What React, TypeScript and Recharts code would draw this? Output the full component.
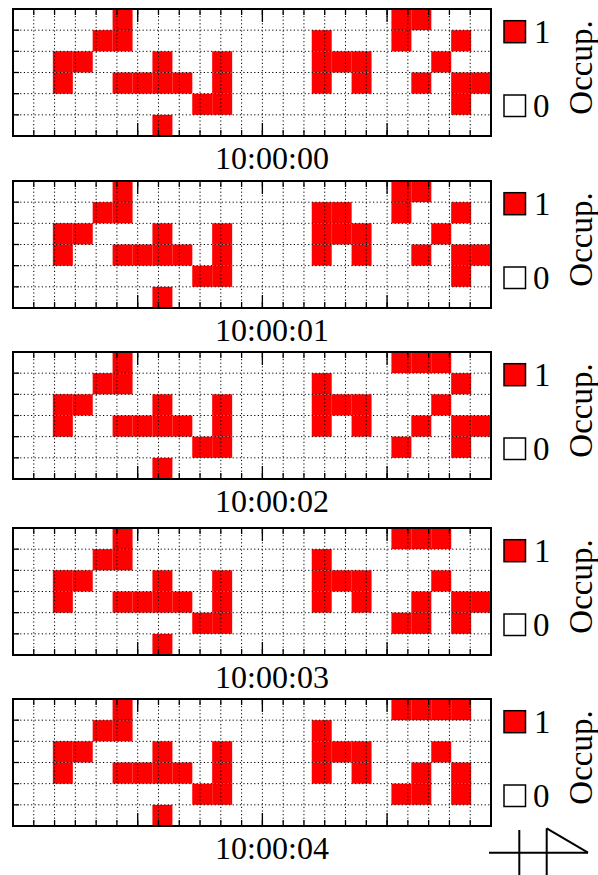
import React from "react";
import { BarChart, Bar, Cell, XAxis, YAxis, ReferenceLine } from "recharts";

// grid columns (left to right) and rows (top to bottom)
const columns = [0, 1, 2, 3, 4, 5, 6, 7, 8, 9, 10, 11, 12, 13, 14, 15, 16, 17, 18, 19, 20, 21, 22, 23];
const rowIds = [0, 1, 2, 3, 4, 5];

const times = ["10:00:00", "10:00:01", "10:00:02", "10:00:03", "10:00:04"];

// occupancy, one string per row (top row first), one char per column
const occ0 = [
    "000001000000000000011000",
    "000011000000000100010010",
    "001100010010000111000100",
    "001001111010000101001011",
    "000000000110000000000010",
    "000000010000000000000000",
];
const occ1 = [
    "000001000000000000011000",
    "000011000000000110010010",
    "001100010010000111000100",
    "001001111010000101001011",
    "000000000110000000000010",
    "000000010000000000000000",
];
const occ2 = [
    "000001000000000000011100",
    "000011000000000100000010",
    "001100010010000111000100",
    "001001111010000101001011",
    "000000000110000000010010",
    "000000010000000000000000",
];
const occ3 = [
    "000001000000000000011100",
    "000011000000000100000000",
    "001100010010000111000100",
    "001001111010000101001011",
    "000000000110000000011010",
    "000000010000000000000000",
];
const occ4 = [
    "000001000000000000011110",
    "000011000000000100000000",
    "001100010010000111000100",
    "001001111010000101001010",
    "000000000110000000011010",
    "000000010000000000000000",
];
const frames = [occ0, occ1, occ2, occ3, occ4];

const legendLabel = "Occup.";

const RED = "#ff0000";
const FONT = "'Liberation Serif', 'Times New Roman', serif";
const W = 598;
const PLOT_H = 127;
const chartTops = [0, 172, 343, 519, 690];

const XMAX = columns.length;
const YMAX = rowIds.length;
// inner boundaries only; the frame covers the ends
const xTicks = columns.slice(1);
const xMajor = xTicks.filter((t) => t % 6 === 0);
const yTicks = rowIds.slice(1);

const tickStyle = { stroke: "#000", strokeWidth: 1.3 };
const borderStyle = { stroke: "#000", strokeWidth: 2, strokeLinecap: "square" as const };
const THIN = 0.01; // axes need a non-zero size to be drawn
const noLabel = () => <g />;

interface PanelProps {
    grid: string[];
    time: string;
    height: number;
    last: boolean;
}

const Panel: React.FC<PanelProps> = ({ grid, time, height, last }) => {
    const data = columns.map((c) => {
        const o: any = { col: c };
        rowIds.forEach((r) => {
            o[`h${r}`] = 1;
            o[`o${r}`] = grid[r][c] === "1";
        });
        return o;
    });
    const top = 9;
    const stackOrder = [...rowIds].reverse();
    const txt = { fontFamily: FONT };

    return (
        <BarChart
            width={W}
            height={height}
            data={data}
            margin={{ top: top, right: 107, left: 13, bottom: height - top - PLOT_H }}
            barCategoryGap={0}
            barGap={0}
            style={{ overflow: "visible" }}
        >
            <XAxis xAxisId="cat" dataKey="col" type="category" hide />
            <XAxis xAxisId="b" type="number" domain={[0, XMAX]} ticks={xTicks} interval={0} mirror
                tick={noLabel} tickSize={6} height={THIN} axisLine={false} tickLine={tickStyle} />
            <XAxis xAxisId="bm" type="number" domain={[0, XMAX]} ticks={xMajor} interval={0} mirror
                tick={noLabel} tickSize={13} height={THIN} axisLine={borderStyle} tickLine={tickStyle} />
            <XAxis xAxisId="t" orientation="top" type="number" domain={[0, XMAX]} ticks={xTicks} interval={0} mirror
                tick={noLabel} tickSize={6} height={THIN} axisLine={false} tickLine={tickStyle} />
            <XAxis xAxisId="tm" orientation="top" type="number" domain={[0, XMAX]} ticks={xMajor} interval={0} mirror
                tick={noLabel} tickSize={13} height={THIN} axisLine={borderStyle} tickLine={tickStyle} />
            <YAxis yAxisId="l" type="number" domain={[0, YMAX]} ticks={yTicks} interval={0} mirror
                tick={noLabel} tickSize={6} width={THIN} axisLine={borderStyle} tickLine={tickStyle} />
            <YAxis yAxisId="r" orientation="right" type="number" domain={[0, YMAX]} ticks={yTicks} interval={0}
                tick={noLabel} tickLine={false} width={THIN} axisLine={borderStyle} />

            {stackOrder.map((r) => (
                <Bar key={r} dataKey={`h${r}`} stackId="s" xAxisId="cat" yAxisId="l" isAnimationActive={false}>
                    {data.map((d, i) => (
                        <Cell key={i} fill={d[`o${r}`] ? RED : "none"} />
                    ))}
                </Bar>
            ))}

            {xTicks.map((x) => (
                <ReferenceLine key={`x${x}`} x={x} xAxisId="b" yAxisId="l" stroke="#000"
                    strokeWidth={1} strokeDasharray="1.2 2.4" />
            ))}
            {yTicks.map((y) => (
                <ReferenceLine key={`y${y}`} y={y} xAxisId="b" yAxisId="l" stroke="#000"
                    strokeWidth={1} strokeDasharray="1.2 2.4" />
            ))}
            {/* inward ticks on the right frame */}
            {yTicks.map((y) => (
                <ReferenceLine key={`ry${y}`} segment={[{ x: XMAX - 0.3, y }, { x: XMAX, y }]}
                    xAxisId="b" yAxisId="l" stroke="#000" strokeWidth={1.3} />
            ))}

            {/* time label */}
            <text x={272} y={top + PLOT_H + 32.5} textAnchor="middle" style={txt} fontSize={32} fill="#000">
                {time}
            </text>

            {/* legend */}
            <rect x={504} y={top + 11.7} width={21.5} height={22} fill={RED} stroke="#000" strokeWidth={1.5} />
            <text x={534} y={top + 34} style={txt} fontSize={33} fill="#000">1</text>
            <rect x={504} y={top + 86} width={21.5} height={21.5} fill="#fff" stroke="#000" strokeWidth={1.5} />
            <text x={533} y={top + 107.8} style={txt} fontSize={33} fill="#000">0</text>
            <text x={591.5} y={top + 58.5} transform={`rotate(-90 591.5 ${top + 58.5})`} textAnchor="middle"
                style={txt} fontSize={33} fill="#000">
                {legendLabel}
            </text>

            {last && (
                <g stroke="#000" strokeWidth={2} fill="none">
                    <line x1={489} y1={162.7} x2={588} y2={162.7} />
                    <line x1={519.3} y1={140} x2={519.3} y2={185} />
                    <line x1={546.7} y1={138.3} x2={546.7} y2={185} />
                    <line x1={546.7} y1={138.3} x2={588} y2={162.7} />
                </g>
            )}
        </BarChart>
    );
};

const App: React.FC = () => {
    return (
        <div style={{ position: "absolute", left: 0, top: 0, width: W, height: 875, background: "#fff", fontFamily: FONT }}>
            {frames.map((grid, i) => (
                <div key={i} style={{ position: "absolute", left: 0, top: chartTops[i] }}>
                    <Panel
                        grid={grid}
                        time={times[i]}
                        height={i === frames.length - 1 ? 185 : 178}
                        last={i === frames.length - 1}
                    />
                </div>
            ))}
        </div>
    );
};

export default App;
